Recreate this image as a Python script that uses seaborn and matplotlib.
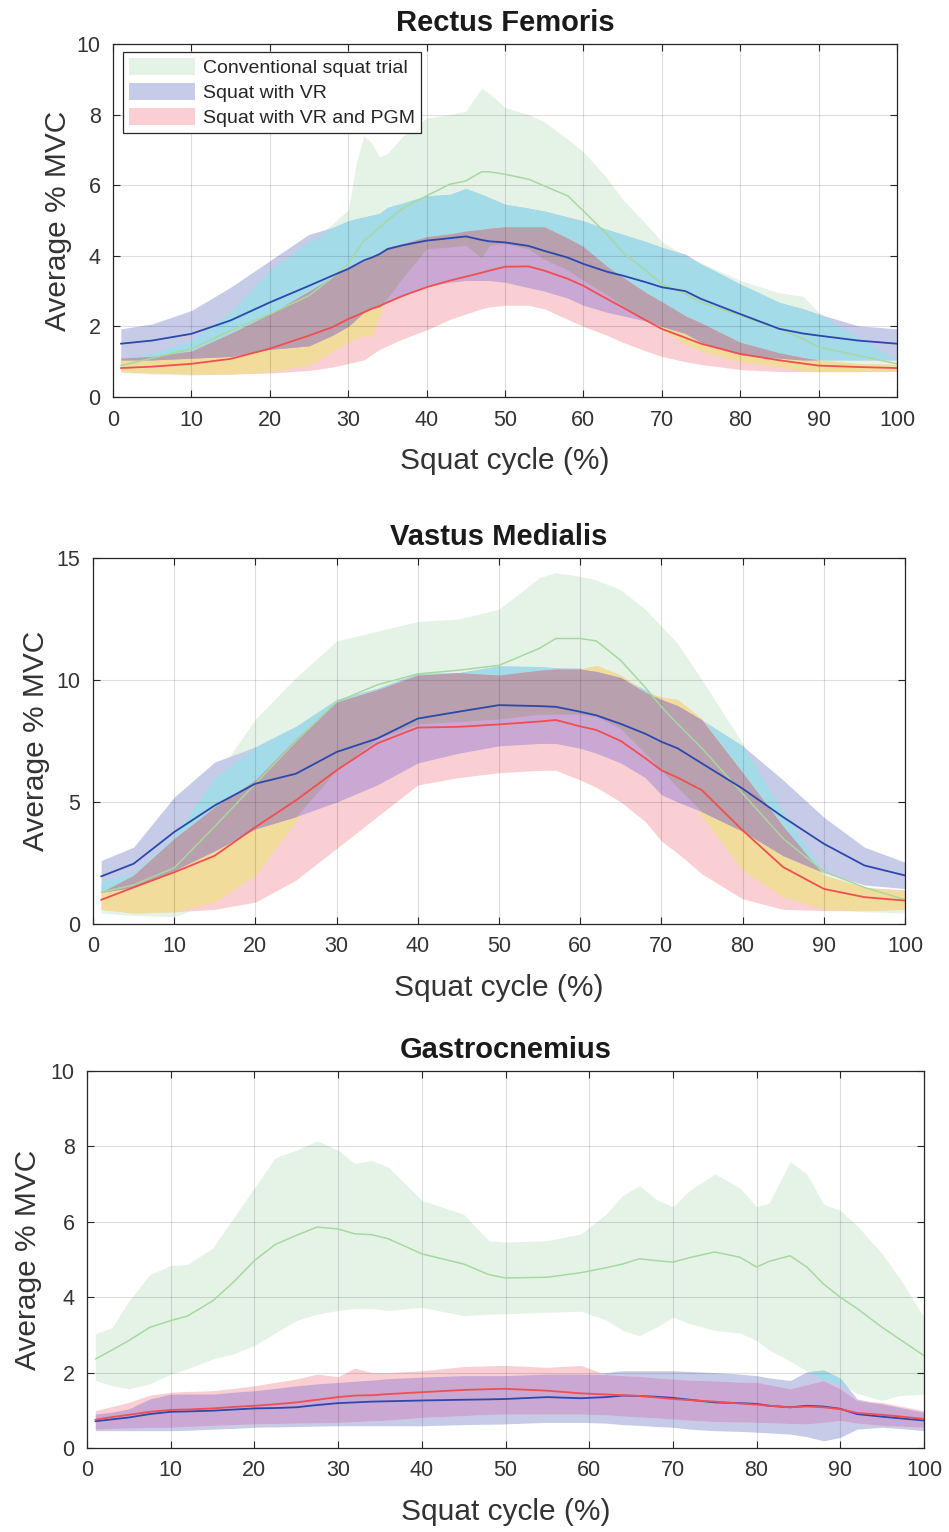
import numpy as np
import matplotlib
matplotlib.use("Agg")
import matplotlib.pyplot as plt
from matplotlib.patches import Patch
import seaborn as sns

# ---------------- data ----------------
conditions = ["Conventional squat trial", "Squat with VR", "Squat with VR and PGM"]
titles = ["Rectus Femoris", "Vastus Medialis", "Gastrocnemius"]
y_limits = [10, 15, 10]
y_ticks = [[0, 2, 4, 6, 8, 10], [0, 5, 10, 15], [0, 2, 4, 6, 8, 10]]
x_ticks = [0, 10, 20, 30, 40, 50, 60, 70, 80, 90, 100]

# Rectus Femoris
rf_x = [1, 5, 10, 15, 20, 25, 28, 30, 31, 32, 33, 34, 35, 37, 40, 43, 45, 47, 48, 50,
        53, 55, 58, 60, 63, 65, 68, 70, 73, 75, 80, 85, 88, 90, 95, 100]
rf_g_mean = [0.89, 1.1, 1.37, 1.88, 2.35, 2.87, 3.39, 3.77, 4.1, 4.43, 4.6, 4.8, 5.0, 5.35, 5.7, 6.03, 6.12, 6.38, 6.38, 6.31,
             6.17, 5.98, 5.7, 5.27, 4.61, 4.1, 3.58, 3.2, 2.92, 2.68, 2.31, 1.93, 1.65, 1.41, 1.18, 0.94]
rf_g_hi = [1.1, 1.25, 1.6, 2.4, 3.6, 4.4, 4.9, 5.3, 6.6, 7.4, 7.2, 6.8, 6.9, 7.4, 7.9, 8.0, 8.1, 8.75, 8.6, 8.2,
           8.0, 7.8, 7.3, 6.95, 6.2, 5.6, 4.9, 4.4, 4.0, 3.8, 3.3, 2.95, 2.85, 2.4, 1.7, 1.05]
rf_g_lo = [0.7, 0.65, 0.62, 0.65, 0.72, 0.9, 1.3, 1.55, 1.65, 1.75, 1.7, 2.3, 2.8, 3.4, 4.2, 4.25, 4.3, 3.95, 4.3, 4.35,
           4.2, 3.9, 3.6, 3.3, 2.9, 2.6, 2.2, 1.9, 1.5, 1.3, 1.0, 0.85, 0.75, 0.72, 0.72, 0.75]
rf_b_mean = [1.51, 1.6, 1.79, 2.17, 2.68, 3.15, 3.44, 3.63, 3.75, 3.87, 3.95, 4.05, 4.19, 4.3, 4.43, 4.5, 4.55, 4.45, 4.41, 4.38,
             4.28, 4.14, 3.95, 3.77, 3.55, 3.44, 3.25, 3.11, 3.0, 2.78, 2.35, 1.93, 1.8, 1.74, 1.6, 1.51]
rf_b_hi = [1.93, 2.07, 2.45, 3.11, 3.86, 4.61, 4.8, 4.99, 5.05, 5.1, 5.15, 5.2, 5.37, 5.5, 5.7, 5.74, 5.91, 5.74, 5.65, 5.46,
           5.35, 5.27, 5.1, 4.99, 4.75, 4.61, 4.4, 4.24, 4.05, 3.77, 3.2, 2.68, 2.5, 2.35, 2.02, 1.93]
rf_b_lo = [1.05, 1.05, 1.1, 1.15, 1.35, 1.45, 1.75, 2.0, 2.2, 2.4, 2.5, 2.55, 2.7, 2.9, 3.15, 3.25, 3.3, 3.3, 3.3, 3.25,
           3.1, 3.0, 2.8, 2.6, 2.4, 2.3, 2.15, 2.0, 1.8, 1.55, 1.2, 1.1, 1.05, 1.05, 1.05, 1.05]
rf_r_mean = [0.82, 0.86, 0.94, 1.08, 1.37, 1.74, 1.98, 2.21, 2.3, 2.4, 2.5, 2.58, 2.68, 2.87, 3.11, 3.3, 3.41, 3.52, 3.58, 3.69,
             3.7, 3.58, 3.35, 3.15, 2.78, 2.54, 2.17, 1.93, 1.68, 1.51, 1.22, 1.04, 0.95, 0.89, 0.85, 0.82]
rf_r_hi = [1.1, 1.15, 1.3, 1.8, 2.35, 3.0, 3.4, 3.67, 3.75, 3.85, 3.95, 4.05, 4.24, 4.35, 4.54, 4.62, 4.7, 4.75, 4.78, 4.82,
           4.82, 4.82, 4.5, 4.26, 3.7, 3.4, 2.95, 2.7, 2.3, 2.1, 1.55, 1.25, 1.12, 1.05, 0.95, 0.92]
rf_r_lo = [0.72, 0.68, 0.65, 0.65, 0.68, 0.75, 0.85, 0.95, 1.0, 1.05, 1.2, 1.35, 1.45, 1.65, 1.9, 2.2, 2.35, 2.5, 2.55, 2.6,
           2.6, 2.5, 2.2, 2.0, 1.75, 1.55, 1.3, 1.15, 1.0, 0.92, 0.78, 0.72, 0.72, 0.72, 0.72, 0.72]

# Vastus Medialis
vm_x = [1, 5, 10, 15, 20, 25, 30, 35, 40, 45, 50, 55, 57, 60, 62, 65, 68, 70, 72, 75, 80, 85, 90, 95, 100]
vm_g_mean = [1.3, 1.6, 2.3, 4.0, 5.75, 7.5, 9.1, 9.8, 10.25, 10.4, 10.6, 11.3, 11.7, 11.7, 11.6, 10.8, 9.7, 8.9, 8.2, 7.2,
             5.35, 3.5, 2.15, 1.5, 1.0]
vm_g_hi = [1.75, 2.1, 3.6, 6.0, 8.4, 10.1, 11.6, 12.0, 12.4, 12.5, 12.9, 14.2, 14.4, 14.25, 14.1, 13.7, 12.9, 12.2, 11.5, 10.0,
           7.4, 4.6, 2.1, 1.5, 1.35]
vm_g_lo = [0.45, 0.35, 0.3, 0.9, 2.0, 4.2, 6.3, 7.6, 8.2, 8.3, 8.4, 8.6, 8.6, 8.6, 8.5, 8.0, 7.0, 6.3, 5.6, 4.4,
           2.2, 1.1, 0.6, 0.5, 0.45]
vm_b_mean = [1.95, 2.47, 3.77, 4.86, 5.75, 6.16, 7.05, 7.6, 8.42, 8.7, 8.97, 8.93, 8.9, 8.7, 8.55, 8.2, 7.8, 7.47, 7.2, 6.58,
             5.55, 4.38, 3.29, 2.4, 1.99]
vm_b_hi = [2.6, 3.15, 5.2, 6.64, 7.26, 8.1, 9.2, 9.66, 10.27, 10.3, 10.58, 10.55, 10.5, 10.48, 10.35, 10.1, 9.6, 9.2, 8.95, 8.36,
           7.3, 5.9, 4.38, 3.15, 2.53]
vm_b_lo = [1.3, 1.5, 2.2, 3.0, 3.9, 4.4, 5.0, 5.7, 6.6, 7.0, 7.3, 7.4, 7.4, 7.2, 7.0, 6.6, 6.0, 5.3, 5.0, 4.6,
           3.8, 2.8, 2.1, 1.6, 1.45]
vm_r_mean = [0.99, 1.5, 2.12, 2.8, 3.97, 5.07, 6.3, 7.4, 8.05, 8.08, 8.18, 8.3, 8.36, 8.1, 7.95, 7.5, 6.8, 6.3, 6.0, 5.48,
             3.84, 2.33, 1.44, 1.1, 0.96]
vm_r_hi = [1.3, 2.0, 3.5, 4.8, 5.9, 7.6, 9.1, 9.6, 10.2, 10.3, 10.2, 10.4, 10.45, 10.45, 10.6, 10.2, 9.5, 9.3, 9.2, 8.4,
           6.2, 4.0, 2.0, 1.5, 1.4]
vm_r_lo = [0.6, 0.45, 0.5, 0.6, 0.9, 1.8, 3.1, 4.4, 5.7, 6.0, 6.2, 6.3, 6.3, 5.9, 5.6, 5.0, 4.2, 3.4, 2.9, 2.05,
           1.03, 0.6, 0.55, 0.55, 0.6]

# Gastrocnemius
gc_x = [1, 3, 5, 7.5, 10, 12, 15, 17.5, 20, 22.5, 25, 27.5, 30, 32, 34, 36, 40, 45, 48, 50,
        55, 59, 62, 64, 66, 68, 70, 72, 75, 78, 80, 81.5, 84, 86, 88, 90, 92, 95, 97, 100]
gc_g_mean = [2.36, 2.6, 2.85, 3.2, 3.38, 3.5, 3.9, 4.4, 4.97, 5.4, 5.64, 5.86, 5.81, 5.68, 5.66, 5.55, 5.15, 4.88, 4.6, 4.51,
             4.53, 4.65, 4.78, 4.88, 5.02, 4.97, 4.93, 5.05, 5.2, 5.06, 4.8, 4.95, 5.1, 4.8, 4.35, 4.0, 3.7, 3.2, 2.9, 2.45]
gc_g_hi = [3.03, 3.2, 3.9, 4.6, 4.84, 4.87, 5.3, 6.1, 6.9, 7.7, 7.9, 8.15, 7.9, 7.54, 7.63, 7.45, 6.57, 6.2, 5.5, 5.46,
           5.5, 5.68, 6.2, 6.7, 6.96, 6.6, 6.4, 6.83, 7.27, 6.9, 6.4, 6.5, 7.6, 7.27, 6.47, 6.3, 5.9, 5.15, 4.53, 3.47]
gc_g_lo = [1.79, 1.65, 1.57, 1.7, 1.96, 2.1, 2.36, 2.5, 2.72, 3.05, 3.38, 3.55, 3.65, 3.7, 3.7, 3.65, 3.73, 3.51, 3.55, 3.56,
           3.6, 3.63, 3.4, 3.12, 2.98, 3.2, 3.47, 3.3, 3.12, 3.05, 2.85, 2.6, 2.3, 2.05, 1.79, 1.7, 1.45, 1.26, 1.39, 1.43]
gc_b_mean = [0.71, 0.76, 0.81, 0.9, 0.96, 0.97, 0.99, 1.02, 1.05, 1.06, 1.08, 1.14, 1.19, 1.21, 1.23, 1.24, 1.26, 1.28, 1.29, 1.3,
             1.35, 1.32, 1.35, 1.39, 1.38, 1.36, 1.33, 1.28, 1.21, 1.19, 1.17, 1.12, 1.08, 1.12, 1.1, 1.04, 0.9, 0.83, 0.79, 0.73]
gc_b_hi = [0.9, 0.95, 1.04, 1.3, 1.43, 1.43, 1.43, 1.48, 1.52, 1.58, 1.65, 1.7, 1.74, 1.77, 1.8, 1.84, 1.88, 1.92, 1.92, 1.92,
           1.96, 1.96, 2.0, 2.05, 2.05, 2.05, 2.05, 2.03, 2.0, 1.96, 1.92, 1.86, 1.79, 2.02, 2.07, 1.85, 1.3, 1.17, 1.08, 0.95]
gc_b_lo = [0.46, 0.46, 0.46, 0.46, 0.46, 0.47, 0.5, 0.52, 0.55, 0.56, 0.57, 0.58, 0.59, 0.59, 0.59, 0.59, 0.59, 0.62, 0.63, 0.64,
           0.68, 0.68, 0.66, 0.62, 0.6, 0.57, 0.55, 0.5, 0.46, 0.44, 0.42, 0.4, 0.37, 0.3, 0.19, 0.28, 0.5, 0.55, 0.52, 0.46]
gc_r_mean = [0.75, 0.82, 0.88, 0.96, 1.01, 1.02, 1.05, 1.09, 1.12, 1.16, 1.21, 1.28, 1.35, 1.39, 1.4, 1.43, 1.48, 1.54, 1.56, 1.57,
             1.52, 1.45, 1.42, 1.4, 1.38, 1.34, 1.3, 1.27, 1.23, 1.18, 1.15, 1.12, 1.08, 1.1, 1.08, 1.03, 0.93, 0.88, 0.84, 0.77]
gc_r_hi = [0.99, 1.1, 1.21, 1.4, 1.48, 1.5, 1.52, 1.58, 1.65, 1.74, 1.83, 1.96, 1.89, 2.12, 2.0, 2.0, 2.05, 2.16, 2.18, 2.19,
           2.14, 2.19, 1.95, 1.92, 1.9, 1.86, 1.83, 1.8, 1.78, 1.75, 1.74, 1.68, 1.57, 1.68, 1.79, 1.57, 1.26, 1.21, 1.12, 0.99]
gc_r_lo = [0.5, 0.52, 0.53, 0.55, 0.55, 0.57, 0.6, 0.62, 0.64, 0.65, 0.66, 0.67, 0.68, 0.7, 0.72, 0.74, 0.81, 0.86, 0.89, 0.9,
           0.9, 0.9, 0.88, 0.85, 0.82, 0.8, 0.77, 0.74, 0.7, 0.69, 0.68, 0.67, 0.65, 0.64, 0.68, 0.73, 0.66, 0.6, 0.58, 0.55]

panels = [
    (rf_x, (rf_g_mean, rf_g_lo, rf_g_hi), (rf_b_mean, rf_b_lo, rf_b_hi), (rf_r_mean, rf_r_lo, rf_r_hi)),
    (vm_x, (vm_g_mean, vm_g_lo, vm_g_hi), (vm_b_mean, vm_b_lo, vm_b_hi), (vm_r_mean, vm_r_lo, vm_r_hi)),
    (gc_x, (gc_g_mean, gc_g_lo, gc_g_hi), (gc_b_mean, gc_b_lo, gc_b_hi), (gc_r_mean, gc_r_lo, gc_r_hi)),
]

# ---------------- style ----------------
sns.set_theme(style="ticks")
plt.rcParams["font.family"] = ["Liberation Sans", "DejaVu Sans"]

band_single = ["#e5f3e6", "#c6cce8", "#f9cfd3"]
col_gb = "#a4dbe8"
col_gr = "#f2dc9b"
col_br = "#c9a8d4"
col_all = "#b8a0ae"
line_cols = ["#a6d99f", "#2b48ad", "#f24e50"]
edge = "#262626"

fig = plt.figure(figsize=(9.49, 15.32), dpi=100)
rects = [
    (113 / 949, 1 - 397 / 1532, 784 / 949, 353 / 1532),
    (93 / 949, 1 - 924 / 1532, 812 / 949, 366 / 1532),
    (87 / 949, 1 - 1448 / 1532, 837 / 949, 377 / 1532),
]
ylabel_pads = [3.5, 4.5, 6]

for i, (xs, g, b, r) in enumerate(panels):
    ax = fig.add_axes(rects[i])
    x = np.asarray(xs, dtype=float)
    bands = [g, b, r]
    los = [np.asarray(s[1], float) for s in bands]
    his = [np.asarray(s[2], float) for s in bands]

    # single bands
    for k in range(3):
        ax.fill_between(x, los[k], his[k], color=band_single[k], lw=0, zorder=1)
    # pairwise overlaps
    for (a, c), col in [((0, 1), col_gb), ((0, 2), col_gr), ((1, 2), col_br)]:
        lo = np.maximum(los[a], los[c])
        hi = np.minimum(his[a], his[c])
        ax.fill_between(x, lo, hi, where=hi > lo, interpolate=True, color=col, lw=0, zorder=1.1)
    # triple overlap
    lo = np.maximum.reduce(los)
    hi = np.minimum.reduce(his)
    ax.fill_between(x, lo, hi, where=hi > lo, interpolate=True, color=col_all, lw=0, zorder=1.2)

    # mean lines
    for k in range(3):
        sns.lineplot(x=x, y=np.asarray(bands[k][0], float), ax=ax, color=line_cols[k],
                     lw=1.1 if k == 0 else 1.3, zorder=3, estimator=None, sort=False)

    ax.set_xlim(0, 100)
    ax.set_ylim(0, y_limits[i])
    ax.set_xticks(x_ticks)
    ax.set_yticks(y_ticks[i])
    ax.set_axisbelow(False)
    ax.grid(True, color="black", alpha=0.13, lw=0.8)
    ax.tick_params(direction="in", length=5, width=0.8, colors=edge, labelcolor="#333333",
                   labelsize=15.5, top=True, right=True, pad=9)
    for sp in ax.spines.values():
        sp.set_color(edge)
        sp.set_linewidth(0.9)
        sp.set_zorder(4)
    ax.set_title(titles[i], fontsize=21, fontweight="bold", color="#1a1a1a", pad=9.5)
    ax.set_xlabel("Squat cycle (%)", fontsize=21.5, color="#333333", labelpad=12)
    ax.set_ylabel("Average % MVC", fontsize=21.5, color="#333333", labelpad=ylabel_pads[i])

    if i == 0:
        handles = [Patch(facecolor=band_single[k], edgecolor="none") for k in range(3)]
        leg = ax.legend(handles, conditions, loc="upper left", bbox_to_anchor=(0.0128, 0.977),
                        fontsize=14, frameon=True, fancybox=False, framealpha=1,
                        edgecolor=edge, handlelength=3.4, handleheight=1.0,
                        handletextpad=0.4, labelspacing=0.28, borderpad=0.3, borderaxespad=0)
        leg.get_frame().set_linewidth(0.9)
        leg.set_zorder(5)

fig.savefig("out.png", dpi=100)
